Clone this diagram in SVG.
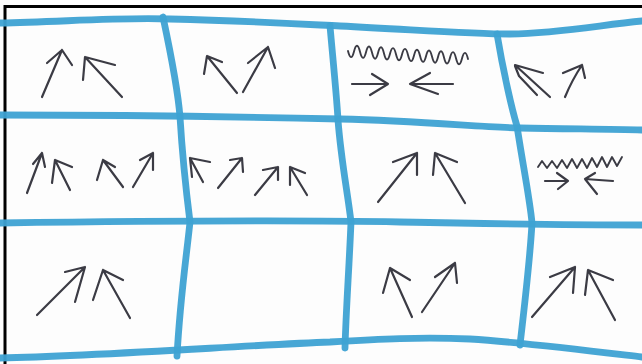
<svg xmlns="http://www.w3.org/2000/svg" width="642" height="364" viewBox="0 0 642 364">
<style>
.grid{fill:none;stroke:#3ea2d3;stroke-width:6.8;stroke-linecap:round;stroke-linejoin:round;opacity:0.95}
.ar{fill:none;stroke:#3b3b44;stroke-width:2.2;stroke-linecap:round;stroke-linejoin:round}
.wv{fill:none;stroke:#3b3b44;stroke-width:1.9;stroke-linecap:round;stroke-linejoin:round}
.frame{fill:none;stroke:#000;stroke-width:3}
</style>
<rect x="0" y="0" width="642" height="364" fill="#fdfdfd"/>
<g id="frame">
<path class="frame" d="M5,364 L5,6.5 L642,6.5"/>
</g>
<g id="grid">
<path class="grid" d="M0,23 C60,22 120,17 170,19 C250,21 300,24 340,26 C420,30 470,34 510,34 C560,33 600,25 642,21"/>
<path class="grid" d="M0,115 C100,115 250,117 340,119 C420,121 480,127 520,128 C570,129 610,129 642,130"/>
<path class="grid" d="M0,223 C150,221 300,220 400,222 C500,224 580,225 642,225"/>
<path class="grid" d="M0,358 C100,356 250,345 330,342 C380,339 420,337 470,339 C520,342 600,352 642,357"/>
<path class="grid" d="M163,17 C170,50 178,90 180,117 C182,150 186,190 190,222 C186,260 180,300 177,356"/>
<path class="grid" d="M330,26 C333,60 337,100 338,120 C341,160 348,195 351,222 C349,270 346,310 345,348"/>
<path class="grid" d="M497,34 C503,70 512,110 517,126 C522,160 530,200 532,223 C530,260 524,310 520,345"/>
</g>
<g id="cell-r1c1">
<path class="ar" d="M42,97 L62,50 M47,63 L62,50 L72,65"/>
<path class="ar" d="M122,97 L85,57 M83,80 L85,57 L115,65"/>
</g>
<g id="cell-r1c2">
<path class="ar" d="M237,93 L207,56 M204,74 L207,56 L222,62"/>
<path class="ar" d="M243,92 L268,47 M248,63 L268,47 L275,68"/>
</g>
<g id="cell-r1c3">
<path class="wv" d="M348,51 q3,12 6,0.4 t6,0.4 t6,0.4 t6,0.4 t6,0.4 t6,0.4 t6,0.4 t6,0.4 t6,0.4 t6,0.4 t6,0.4 t6,0.4 t6,0.4 t6,0.4 t6,0.4 t6,0.4 t6,0.4 t6,0.4 t6,0.4 t6,0.4"/>
<path class="ar" d="M352,84 L388,84 M372,74 L388,84 L370,95"/>
<path class="ar" d="M453,84 L410,84 M430,73 L410,84 L438,94"/>
</g>
<g id="cell-r1c4">
<path class="ar" d="M550,97 L515,65 L543,73 M515,66 L519,76 L537,95"/>
<path class="ar" d="M565,97 C570,85 576,74 582,65 M563,73 L582,65 L585,78"/>
</g>
<g id="cell-r2c1">
<path class="ar" d="M27,193 L42,153 M33,164 L42,153 L45,167"/>
<path class="ar" d="M70,190 L55,160 M52,183 L55,160 L72,167"/>
<path class="ar" d="M123,187 L103,160 M97,180 L103,160 L115,167"/>
<path class="ar" d="M133,187 L153,153 M140,160 L153,153 L153,170"/>
</g>
<g id="cell-r2c2">
<path class="ar" d="M203,182 L190,158 M192,177 L190,158 L210,162"/>
<path class="ar" d="M218,188 L242,158 M230,160 L242,158 L243,172"/>
<path class="ar" d="M255,195 L278,167 M263,170 L278,167 L278,180"/>
<path class="ar" d="M307,195 L290,167 M290,185 L290,167 L305,173"/>
</g>
<g id="cell-r2c3">
<path class="ar" d="M378,202 L417,153 M393,162 L417,153 L417,175"/>
<path class="ar" d="M465,203 L435,153 M433,175 L435,153 L457,162"/>
</g>
<g id="cell-r2c4">
<path class="wv" d="M538,167 L542,161 L547,168 L552,161 L557,168 L562,160 L567,168 L572,159 L577,168 L582,159 L587,168 L592,158 L597,167 L602,157 L607,167 L612,157 L617,166 L622,157"/>
<path class="ar" d="M545,181 L568,181 M557,173 L568,181 L558,189"/>
<path class="ar" d="M613,181 L585,179 M595,173 L585,179 L597,194"/>
</g>
<g id="cell-r3c1">
<path class="ar" d="M37,315 L85,267 M65,272 L85,267 L75,302"/>
<path class="ar" d="M130,318 L103,270 M93,300 L103,270 L123,280"/>
</g>
<g id="cell-r3c2"></g>
<g id="cell-r3c3">
<path class="ar" d="M412,317 L390,268 M383,293 L390,268 L410,280"/>
<path class="ar" d="M422,312 L455,263 M435,277 L455,263 L457,283"/>
</g>
<g id="cell-r3c4">
<path class="ar" d="M532,317 L575,267 M550,277 L575,267 L573,293"/>
<path class="ar" d="M615,320 L588,270 M585,295 L588,270 L613,280"/>
</g>
</svg>
